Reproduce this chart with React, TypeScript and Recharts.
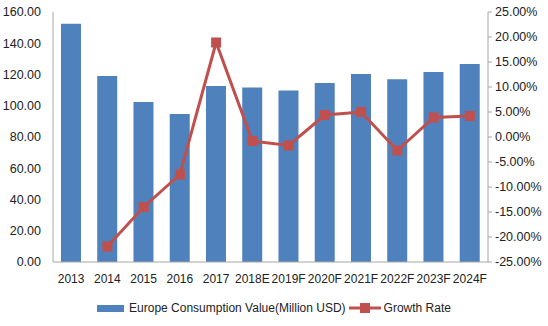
import { ComposedChart, Bar, Line, XAxis, YAxis, Legend } from "recharts";

const years = ["2013", "2014", "2015", "2016", "2017", "2018E", "2019F", "2020F", "2021F", "2022F", "2023F", "2024F"];
const consumption = [152.5, 119.0, 102.4, 94.7, 112.6, 111.7, 109.8, 114.6, 120.3, 117.0, 121.6, 126.7];
const growthRate = [null, -21.9, -14.0, -7.5, 18.9, -0.8, -1.7, 4.4, 5.0, -2.7, 3.9, 4.2];
const leftTicks = [0, 20, 40, 60, 80, 100, 120, 140, 160];
const rightTicks = [-25, -20, -15, -10, -5, 0, 5, 10, 15, 20, 25];

const BLUE = "#4f81bd";
const RED = "#c0504d";
const FONT = "'Liberation Sans', Arial, sans-serif";

const data = years.map((y, i) => ({ year: y, value: consumption[i], growth: growthRate[i] }));

const SquareDot = (props: any) => {
  const { cx, cy, value } = props;
  if (value == null || cx == null || cy == null) return null;
  return <rect x={cx - 5} y={cy - 5} width={10} height={10} fill={RED} />;
};

const ChartLegend = () => (
  <div style={{ display: "flex", justifyContent: "center", alignItems: "center", fontFamily: FONT, fontSize: 12, color: "#222", paddingTop: 15 }}>
    <span style={{ display: "inline-block", width: 27, height: 7, background: BLUE, marginRight: 5 }} />
    <span>Europe Consumption Value(Million USD)</span>
    <svg width={32} height={12} style={{ margin: "0 3px" }}>
      <line x1={0} y1={6} x2={32} y2={6} stroke={RED} strokeWidth={3} />
      <rect x={11} y={1} width={10} height={10} fill={RED} />
    </svg>
    <span>Growth Rate</span>
  </div>
);

export default function App() {
  return (
    <div style={{ position: "absolute", left: 0, top: 0, background: "#fff" }}>
      <ComposedChart width={548} height={326} data={data} margin={{ top: 12, right: 0, bottom: 0, left: 0 }} barCategoryGap="22%">
        <XAxis
          dataKey="year"
          height={24}
          tickLine={false}
          axisLine={{ stroke: "#a6a6a6" }}
          tick={{ fill: "#222", fontSize: 12, fontFamily: FONT }}
          tickMargin={6}
          interval={0}
        />
        <YAxis
          yAxisId="left"
          width={53}
          domain={[0, 160]}
          ticks={leftTicks}
          tickFormatter={(v: number) => v.toFixed(2)}
          tickLine={false}
          axisLine={{ stroke: "#a6a6a6" }}
          tick={{ fill: "#222", fontSize: 12.5, fontFamily: FONT }}
          tickMargin={6}
        />
        <YAxis
          yAxisId="right"
          orientation="right"
          width={60}
          domain={[-25, 25]}
          ticks={rightTicks}
          tickFormatter={(v: number) => v.toFixed(2) + "%"}
          tickLine={{ stroke: "#a6a6a6" }}
          tickSize={4}
          axisLine={{ stroke: "#a6a6a6" }}
          tick={{ fill: "#222", fontSize: 12.5, fontFamily: FONT }}
          tickMargin={3}
        />
        <Legend verticalAlign="bottom" height={40} content={<ChartLegend />} />
        <Bar yAxisId="left" dataKey="value" fill={BLUE} isAnimationActive={false} />
        <Line
          yAxisId="right"
          dataKey="growth"
          stroke={RED}
          strokeWidth={3}
          dot={<SquareDot />}
          activeDot={false}
          isAnimationActive={false}
          connectNulls={false}
        />
      </ComposedChart>
    </div>
  );
}
